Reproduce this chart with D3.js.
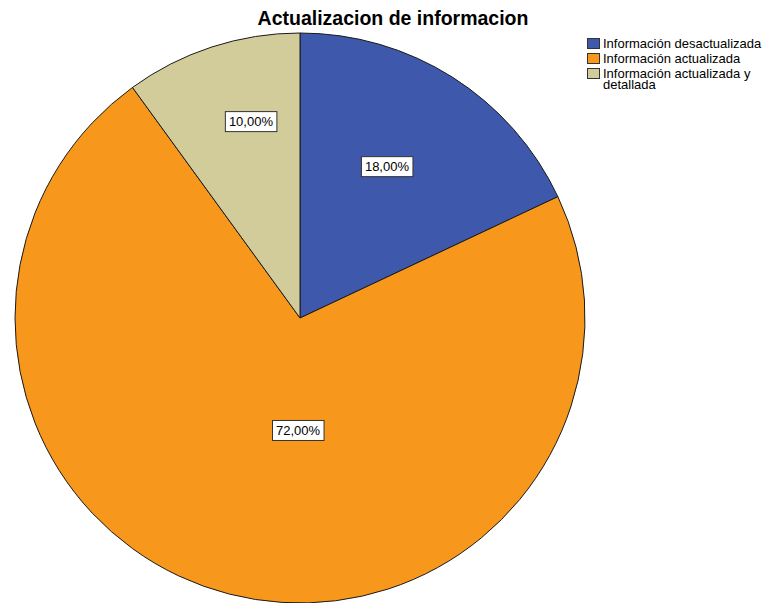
<!DOCTYPE html>
<html lang="es">
<head>
  <meta charset="UTF-8">
  <title>Actualizacion de informacion</title>
  <script src="https://d3js.org/d3.v7.min.js"></script>
  <style>
    body { margin: 0; padding: 0; background: #fff; font-family: "Liberation Sans", Arial, sans-serif; }
    .title { font-size: 19.5px; font-weight: bold; fill: #000; }
    .legend-text { font-size: 13px; fill: #000; }
    .pct { font-size: 13px; fill: #000; }
  </style>
</head>
<body>
  <div id="chart"></div>
  <script>
    const categories = ["Información desactualizada", "Información actualizada", "Información actualizada y detallada"];
    const values = [18, 72, 10];
    const colors = ["#3e58ac", "#f7981d", "#d2cc9a"];
    const legendLines = [["Información desactualizada"], ["Información actualizada"], ["Información actualizada y", "detallada"]];

    const width = 770, height = 603;
    const cx = 300, cy = 318, radius = 285;

    const svg = d3.select("#chart").append("svg")
      .attr("width", width)
      .attr("height", height);

    svg.append("text")
      .attr("class", "title")
      .attr("x", 393)
      .attr("y", 25)
      .attr("text-anchor", "middle")
      .text("Actualizacion de informacion");

    const pie = d3.pie().value(d => d).sort(null);
    const arcs = pie(values);
    const arc = d3.arc().innerRadius(0).outerRadius(radius);

    const g = svg.append("g").attr("transform", `translate(${cx},${cy})`);

    g.selectAll("path")
      .data(arcs)
      .join("path")
      .attr("d", arc)
      .attr("fill", (d, i) => colors[i])
      .attr("stroke", "#1a1a1a")
      .attr("stroke-width", 1);

    // SPSS style label placement: distance from centre and angle shift (deg) per slice
    const labelFrac = [0.614, 0.393, 0.712];
    const labelShift = [-2.6, -13.4, 4];
    const fmt = v => d3.format(".2f")(v).replace(".", ",") + "%";
    const total = d3.sum(values);

    arcs.forEach((d, i) => {
      const r = radius * labelFrac[i];
      const a = (d.startAngle + d.endAngle) / 2 + labelShift[i] * Math.PI / 180;
      const x = Math.sin(a) * r, y = -Math.cos(a) * r;
      const t = g.append("text")
        .attr("class", "pct")
        .attr("x", x)
        .attr("y", y + 5)
        .attr("text-anchor", "middle")
        .text(fmt(values[i] / total * 100));
      const bb = t.node().getBBox();
      g.insert("rect", function () { return t.node(); })
        .attr("x", bb.x - 3.5)
        .attr("y", bb.y - 2.5)
        .attr("width", bb.width + 7)
        .attr("height", bb.height + 5)
        .attr("fill", "#fff")
        .attr("stroke", "#333")
        .attr("stroke-width", 1);
    });

    const legend = svg.append("g").attr("transform", "translate(587,36)");
    const rowY = [0, 15, 30];
    categories.forEach((c, i) => {
      const row = legend.append("g").attr("transform", `translate(0,${rowY[i]})`);
      row.append("rect")
        .attr("x", 0.5).attr("y", 2.5)
        .attr("width", 12).attr("height", 10)
        .attr("fill", colors[i])
        .attr("stroke", "#333");
      legendLines[i].forEach((line, j) => {
        row.append("text")
          .attr("class", "legend-text")
          .attr("x", 16)
          .attr("y", 12 + j * 11)
          .text(line);
      });
    });
  </script>
</body>
</html>
